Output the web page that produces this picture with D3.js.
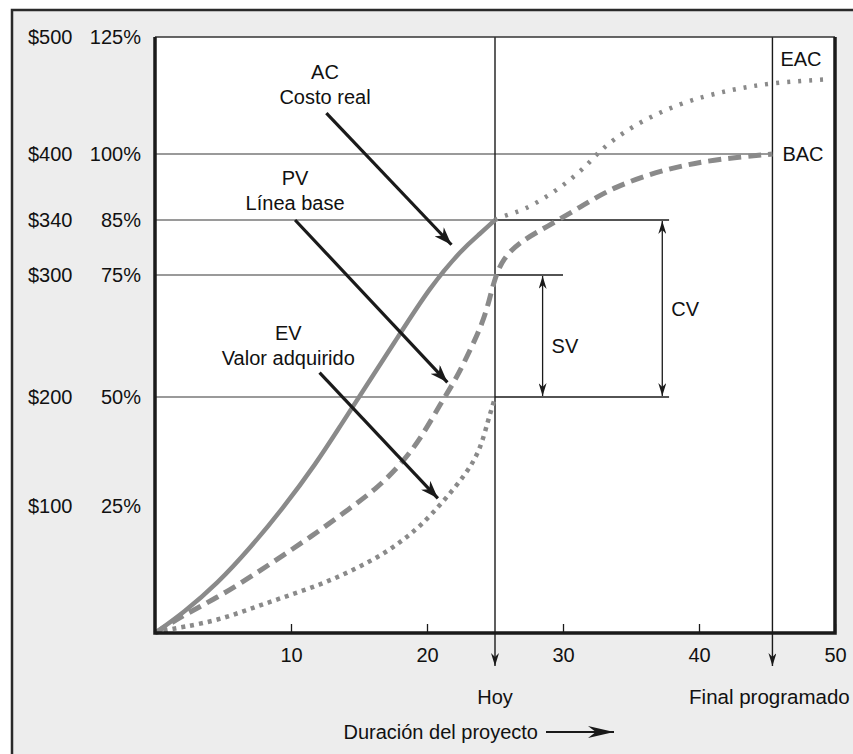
<!DOCTYPE html>
<html>
<head>
<meta charset="utf-8">
<script src="https://cdn.jsdelivr.net/npm/d3@7/dist/d3.min.js"></script>
<style>
  body { margin: 0; background: #fff; }
  svg text { font-family: "Liberation Sans", Arial, Helvetica, sans-serif; fill: #111; }
</style>
</head>
<body>
<div id="chart"></div>
<script>
// ---- data (time units, dollars) ----
const xTickValues = [10, 20, 30, 40, 50];
const dollarValues = [500, 400, 340, 300, 200, 100];
const dollarLabels = ['$500', '$400', '$340', '$300', '$200', '$100'];
const pctLabels = ['125%', '100%', '85%', '75%', '50%', '25%'];
const gridValues = [400, 340, 300, 200];

const today = 25;
const scheduledEnd = 45.4;

// AC - actual cost (solid), up to today
const acT = [0, 2.1, 4.6, 7.0, 9.4, 11.9, 13.6, 15.3, 17.8, 20.2, 22.6, 23.9, 25];
const acV = [0, 16, 39, 67, 98, 140, 173, 205, 248, 290, 319, 330, 340];

// EAC - forecast of actual cost (dotted), after today
const eacT = [25, 25.7, 27.1, 28.8, 30.3, 31.8, 32.7, 34.9, 38.6, 42.3, 45.4, 49.6];
const eacV = [340, 344, 349, 361, 374, 390, 403, 423, 444, 455, 461, 464];

// PV - planned value baseline (dashed)
const pvT = [0, 2.1, 4.6, 7.0, 9.4, 11.9, 14.3, 16.2, 18.0, 19.5, 21.0, 22.1, 23.2, 24.1, 24.6, 25.0, 25.6, 26.8, 28.8, 31.3, 33.7, 37.4, 41.0, 45.4];
const pvV = [0, 14, 28, 44, 61, 79, 98, 115, 137, 161, 194, 214, 239, 261, 280, 298, 312, 324, 335, 352, 370, 386, 395, 400];

// EV - earned value (dotted)
const evT = [0, 0.4, 2.1, 4.6, 7.0, 9.4, 11.9, 14.3, 16.8, 18.2, 19.5, 21.2, 22.9, 23.9, 24.5, 24.9, 25];
const evV = [0, 1.6, 4.7, 10, 19, 28, 37, 48, 62, 73, 84, 104, 130, 151, 179, 195, 200];

// callouts: label anchor and arrow, in data units
const calloutNames = ['AC', 'PV', 'EV'];
const calloutSubs = ['Costo real', 'Línea base', 'Valor adquirido'];
const calloutAt = [[12.5, 464], [10.3, 372], [9.8, 247]];
const calloutFrom = [[12.6, 435], [10.3, 340], [12.1, 220]];
const calloutTo = [[21.8, 322], [21.5, 212], [20.8, 107]];

// variance brackets
const cvTop = 340, cvBottom = 200, cvAt = 37.3, cvEnd = 37.8;
const svTop = 300, svBottom = 200, svAt = 28.5, svEnd = 30;

// ---- layout ----
const W = 853, H = 754;
const plot = { left: 155, top: 37, right: 835, bottom: 633 };
const curveColor = '#8a8a8a';
const gridColor = '#9a9a9a';
const ink = '#1a1a1a';

const svg = d3.select('#chart').append('svg')
    .attr('width', W)
    .attr('height', H);

const defs = svg.append('defs');
function marker(id, len, wid) {
    defs.append('marker')
        .attr('id', id)
        .attr('viewBox', `0 ${-wid / 2} ${len} ${wid}`)
        .attr('refX', len)
        .attr('refY', 0)
        .attr('markerUnits', 'userSpaceOnUse')
        .attr('markerWidth', len)
        .attr('markerHeight', wid)
        .attr('orient', 'auto-start-reverse')
        .append('path')
        .attr('d', `M0,${-wid / 2}L${len},0L0,${wid / 2}L${len * 0.3},0Z`)
        .attr('fill', ink);
}
marker('bigHead', 18, 13);
marker('smallHead', 13, 8);
marker('axisHead', 26, 12);

// outer frame
svg.append('rect')
    .attr('x', 12).attr('y', 10)
    .attr('width', 900).attr('height', 800)
    .attr('fill', '#ededed')
    .attr('stroke', '#2a2a2a')
    .attr('stroke-width', 2.5);

// plot background
svg.append('rect')
    .attr('x', plot.left).attr('y', plot.top)
    .attr('width', plot.right - plot.left)
    .attr('height', plot.bottom - plot.top)
    .attr('fill', '#fff');

const x = d3.scaleLinear()
    .domain([0, 50])
    .range([plot.left, plot.right]);

// schematic (non-uniform) value axis, as in the drawing
const y = d3.scaleLinear()
    .domain([0, 100, 200, 300, 340, 400, 500])
    .range([plot.bottom, 506, 397, 275, 220, 154, plot.top]);

const g = svg.append('g');

// grid lines (gray) up to today, 400 line runs to scheduled end
g.selectAll('.grid')
    .data(gridValues)
    .join('line')
    .attr('class', 'grid')
    .attr('x1', plot.left)
    .attr('x2', d => d === 400 ? x(scheduledEnd) : x(today))
    .attr('y1', d => y(d))
    .attr('y2', d => y(d))
    .attr('stroke', gridColor)
    .attr('stroke-width', 2);

// bracket extension lines (black, thin)
const bracketLines = [[cvTop, cvEnd], [svTop, svEnd], [cvBottom, cvEnd]];
g.selectAll('.ext')
    .data(bracketLines)
    .join('line')
    .attr('x1', x(today))
    .attr('x2', d => x(d[1]))
    .attr('y1', d => y(d[0]))
    .attr('y2', d => y(d[0]))
    .attr('stroke', ink)
    .attr('stroke-width', 1.4);

// vertical today / scheduled end lines with arrows below axis
[today, scheduledEnd].forEach(t => {
    g.append('line')
        .attr('x1', x(t)).attr('x2', x(t))
        .attr('y1', plot.top).attr('y2', plot.bottom + 33)
        .attr('stroke', ink)
        .attr('stroke-width', 1.4)
        .attr('marker-end', 'url(#smallHead)');
});

// CV and SV dimension arrows
[[cvAt, cvTop, cvBottom], [svAt, svTop, svBottom]].forEach(d => {
    g.append('line')
        .attr('x1', x(d[0])).attr('x2', x(d[0]))
        .attr('y1', y(d[1]) + 1).attr('y2', y(d[2]) - 1)
        .attr('stroke', ink)
        .attr('stroke-width', 1.3)
        .attr('marker-start', 'url(#smallHead)')
        .attr('marker-end', 'url(#smallHead)');
});
g.append('text')
    .attr('x', x(cvAt) + 9).attr('y', (y(cvTop) + y(cvBottom)) / 2)
    .attr('dy', '0.35em')
    .style('font-size', '20px')
    .text('CV');
g.append('text')
    .attr('x', x(svAt) + 9).attr('y', (y(svTop) + y(svBottom)) / 2 + 10)
    .attr('dy', '0.35em')
    .style('font-size', '20px')
    .text('SV');

// curves (B-spline through the read points, smooths reading noise)
const line = d3.line()
    .x(d => x(d[0]))
    .y(d => y(d[1]))
    .curve(d3.curveBasis);

const zip = (a, b) => a.map((v, i) => [v, b[i]]);

g.append('path')
    .datum(zip(evT, evV))
    .attr('d', line)
    .attr('fill', 'none')
    .attr('stroke', curveColor)
    .attr('stroke-width', 4.5)
    .attr('stroke-dasharray', '4,5');

g.append('path')
    .datum(zip(eacT, eacV))
    .attr('d', line)
    .attr('fill', 'none')
    .attr('stroke', curveColor)
    .attr('stroke-width', 4.5)
    .attr('stroke-dasharray', '3,8');

g.append('path')
    .datum(zip(pvT, pvV))
    .attr('d', line)
    .attr('fill', 'none')
    .attr('stroke', curveColor)
    .attr('stroke-width', 5)
    .attr('stroke-dasharray', '13,7');

g.append('path')
    .datum(zip(acT, acV))
    .attr('d', line)
    .attr('fill', 'none')
    .attr('stroke', curveColor)
    .attr('stroke-width', 4.5);

// callouts
calloutNames.forEach((name, i) => {
    const t = g.append('text')
        .attr('text-anchor', 'middle')
        .attr('x', x(calloutAt[i][0]))
        .attr('y', y(calloutAt[i][1]))
        .style('font-size', '20px');
    t.append('tspan').attr('x', x(calloutAt[i][0])).text(name);
    t.append('tspan').attr('x', x(calloutAt[i][0])).attr('dy', 25).text(calloutSubs[i]);

    g.append('line')
        .attr('x1', x(calloutFrom[i][0])).attr('y1', y(calloutFrom[i][1]))
        .attr('x2', x(calloutTo[i][0])).attr('y2', y(calloutTo[i][1]))
        .attr('stroke', ink)
        .attr('stroke-width', 3.2)
        .attr('marker-end', 'url(#bigHead)');
});

// EAC / BAC labels
g.append('text')
    .attr('x', x(scheduledEnd) + 8).attr('y', y(eacV[eacV.length - 1]) - 20)
    .attr('dy', '0.35em')
    .style('font-size', '20px')
    .text('EAC');
g.append('text')
    .attr('x', x(scheduledEnd) + 10).attr('y', y(400))
    .attr('dy', '0.35em')
    .style('font-size', '20px')
    .text('BAC');

// plot border: thin top, heavy left/bottom/right
svg.append('line')
    .attr('x1', plot.left).attr('x2', plot.right)
    .attr('y1', plot.top).attr('y2', plot.top)
    .attr('stroke', '#333').attr('stroke-width', 1.5);
svg.append('path')
    .attr('d', `M${plot.left},${plot.top}V${plot.bottom}H${plot.right}V${plot.top}`)
    .attr('fill', 'none')
    .attr('stroke', ink)
    .attr('stroke-width', 3.5);

// x axis ticks (inward)
const xAxis = svg.append('g')
    .attr('transform', `translate(0,${plot.bottom})`)
    .call(d3.axisBottom(x)
        .tickValues(xTickValues)
        .tickSize(-9)
        .tickPadding(15)
        .tickSizeOuter(0));
xAxis.select('.domain').remove();
xAxis.selectAll('line').attr('stroke', ink).attr('stroke-width', 1.3);
xAxis.selectAll('text')
    .attr('fill', '#111')
    .style('font-size', '20px')
    .style('font-family', '"Liberation Sans", Arial, sans-serif');

// y labels: dollars and percent
svg.selectAll('.ylab')
    .data(dollarValues)
    .join('text')
    .attr('class', 'ylab')
    .attr('x', 28)
    .attr('y', d => y(d))
    .attr('dy', '0.35em')
    .style('font-size', '20px')
    .text((d, i) => dollarLabels[i]);
svg.selectAll('.pct')
    .data(dollarValues)
    .join('text')
    .attr('class', 'pct')
    .attr('x', 141)
    .attr('y', d => y(d))
    .attr('dy', '0.35em')
    .attr('text-anchor', 'end')
    .style('font-size', '20px')
    .text((d, i) => pctLabels[i]);

// bottom labels
svg.append('text')
    .attr('x', x(today)).attr('y', 704)
    .attr('text-anchor', 'middle')
    .style('font-size', '20px')
    .text('Hoy');
svg.append('text')
    .attr('x', x(scheduledEnd) - 3).attr('y', 704)
    .attr('text-anchor', 'middle')
    .style('font-size', '20.5px')
    .text('Final programado');
svg.append('text')
    .attr('x', 538).attr('y', 739)
    .attr('text-anchor', 'end')
    .style('font-size', '20px')
    .text('Duración del proyecto');
svg.append('line')
    .attr('x1', 546).attr('x2', 614)
    .attr('y1', 732).attr('y2', 732)
    .attr('stroke', ink)
    .attr('stroke-width', 2)
    .attr('marker-end', 'url(#axisHead)');
</script>
</body>
</html>
